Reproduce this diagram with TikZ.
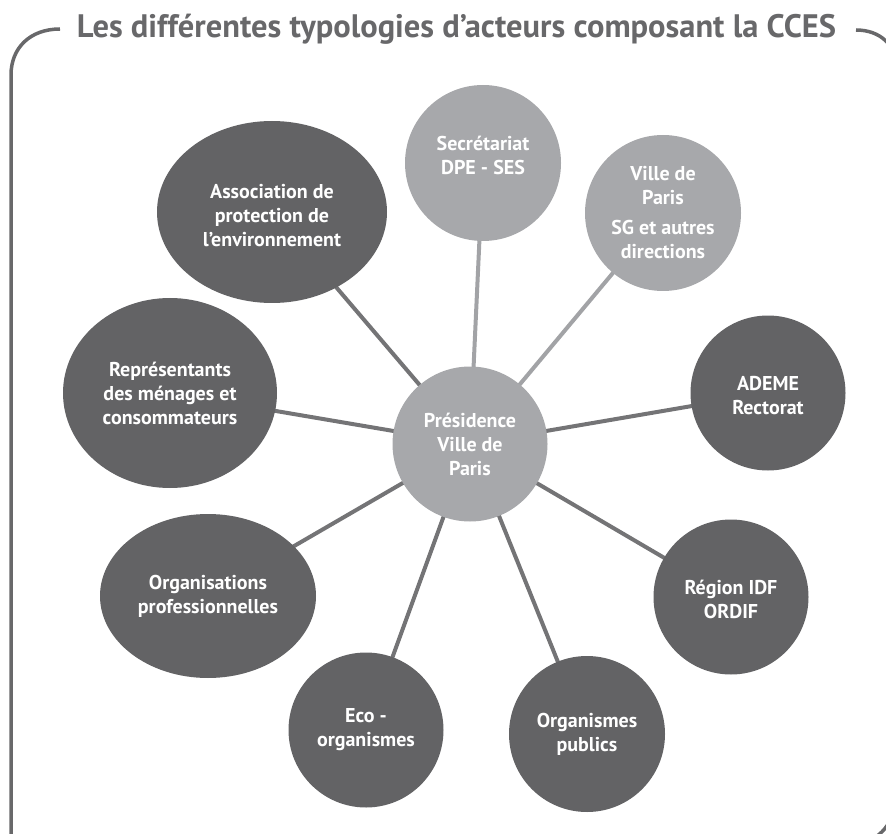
\documentclass[tikz,border=0pt]{standalone}
\usepackage{fontspec}
\setmainfont{PT Sans}
\usetikzlibrary{shapes.geometric,backgrounds}
\definecolor{darknode}{HTML}{636365}
\definecolor{lightnode}{HTML}{A7A8AB}
\definecolor{darkline}{HTML}{747476}
\definecolor{lightline}{HTML}{A2A3A6}
\definecolor{framecol}{HTML}{68686A}
\begin{document}
\begin{tikzpicture}[x=1pt,y=-1pt,
  actor/.style={ellipse, inner sep=0pt, draw=none},
  darkactor/.style={actor, fill=darknode},
  lightactor/.style={actor, fill=lightnode},
  txt/.style={text=white, font=\fontsize{20}{24}\selectfont\bfseries, align=center, inner sep=0pt},
  link/.style={line width=4pt, darkline},
  lightlink/.style={line width=4pt, lightline},
  frameline/.style={line width=3.5pt, framecol},
  titlestyle/.style={text=framecol, font=\fontsize{32.5}{36}\selectfont\bfseries, inner sep=0pt}]
\useasboundingbox (0,0) rectangle (886,834);
\clip (0,0) rectangle (886,834);

% frame
\draw[frameline] (60,29) .. controls (30,29) and (11,48) .. (11,75) -- (11,850);
\draw[frameline] (856,30) .. controls (880,30) and (897,45) .. (897,70);
\draw[frameline] (850,845) .. controls (875,845) and (895,825) .. (895,800);

% title
\node[titlestyle, anchor=base] (title) at (456.5,38) {Les différentes typologies d’acteurs composant la CCES};

% nodes
\node[lightactor, minimum width=155pt, minimum height=155pt, label={[txt]center:{Présidence\\Ville de\\Paris}}] (cen) at (470,444) {};
\node[lightactor, minimum width=156pt, minimum height=156pt, label={[txt, yshift=8pt]center:{Secrétariat\\DPE - SES}}] (sec) at (483,163) {};
\node[lightactor, minimum width=156pt, minimum height=156pt, label={[txt]center:{Ville de\\Paris\\[6pt]SG et autres\\directions}}] (vdp) at (663,213) {};
\node[darkactor, minimum width=155pt, minimum height=155pt, label={[txt, yshift=-3pt]center:{ADEME\\Rectorat}}] (ademe) at (768,393) {};
\node[darkactor, minimum width=155pt, minimum height=155pt, label={[txt, yshift=-2pt]center:{Région IDF\\ORDIF}}] (region) at (731,597) {};
\node[darkactor, minimum width=156pt, minimum height=156pt, label={[txt]center:{Organismes\\publics}}] (orgpub) at (587,734) {};
\node[darkactor, minimum width=155pt, minimum height=155pt, label={[txt]center:{Eco -\\organismes}}] (eco) at (366,730) {};
\node[darkactor, minimum width=216pt, minimum height=164pt, label={[txt]center:{Organisations\\professionnelles}}] (orgpro) at (208,596) {};
\node[darkactor, minimum width=214pt, minimum height=190pt, label={[txt]center:{Représentants\\des ménages et\\consommateurs}}] (rep) at (170,393) {};
\node[darkactor, minimum width=230pt, minimum height=182pt, label={[txt, yshift=-4pt]center:{Association de\\protection de\\l’environnement}}] (asso) at (272,212) {};

% connectors
\begin{scope}[on background layer]
\draw[lightlink] (cen.center) -- (sec.center);
\draw[lightlink] (cen.center) -- (vdp.center);
\draw[link] (cen.center) -- (ademe.center);
\draw[link] (cen.center) -- (region.center);
\draw[link] (cen.center) -- (orgpub.center);
\draw[link] (cen.center) -- (eco.center);
\draw[link] (cen.center) -- (orgpro.center);
\draw[link] (cen.center) -- (rep.center);
\draw[link] (cen.center) -- (asso.center);
\end{scope}
\end{tikzpicture}
\end{document}
